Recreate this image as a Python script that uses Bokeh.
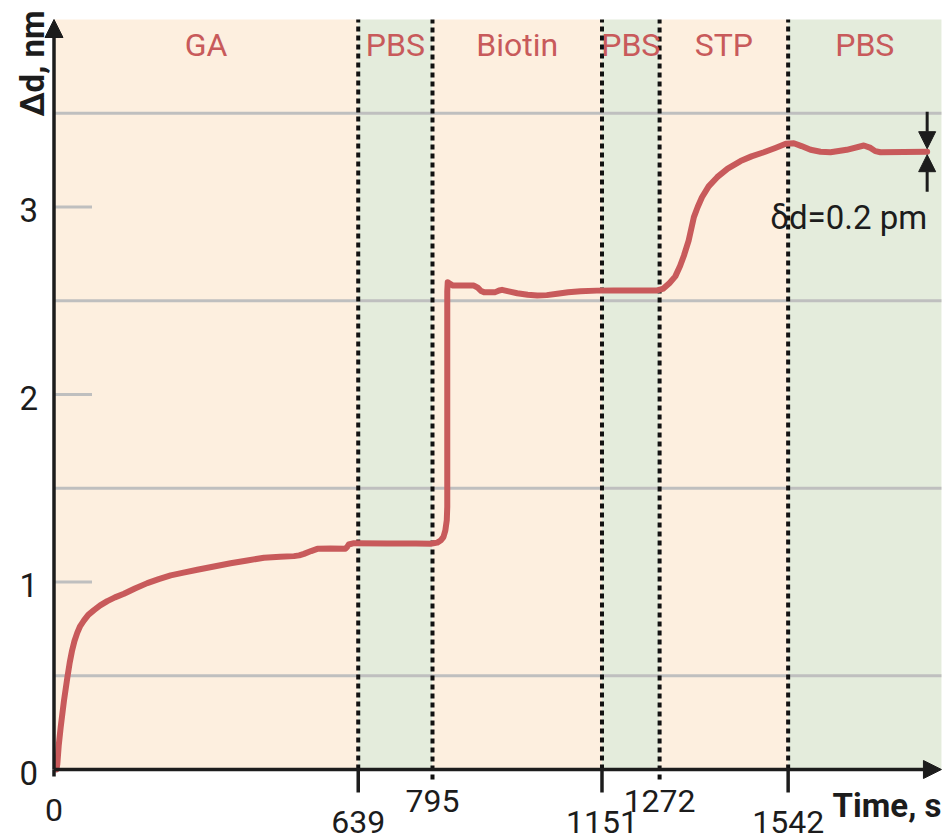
from bokeh.plotting import figure
from bokeh.models import Range1d, Arrow, NormalHead
from bokeh.core.properties import value
from bokeh.embed import file_html
from bokeh.resources import INLINE
import math

# ---------------- data ----------------
phase_names = ["GA", "PBS", "Biotin", "PBS", "STP", "PBS"]
phase_starts = [0, 639, 795, 1151, 1272, 1542]
phase_ends = [639, 795, 1151, 1272, 1542, 1864]
phase_is_buffer = [False, True, False, True, False, True]

boundaries = [639, 795, 1151, 1272, 1542]
boundary_low_label = [True, False, True, False, True]

x_ticks = [0, 639, 795, 1151, 1272, 1542]
x_tick_labels = ["0", "639", "795", "1151", "1272", "1542"]
y_ticks = [0, 1, 2, 3]
y_tick_labels = ["0", "1", "2", "3"]
y_grid = [0.5, 1.5, 2.5, 3.5]

time_s = [5, 7, 10, 14, 21, 28, 33, 38, 43, 49, 55, 63, 72, 84, 97, 112, 128, 147, 170,
          196, 220, 245, 272, 301, 336, 371, 406, 441, 475, 504, 515, 525, 540, 553,
          581, 612, 616, 619, 630, 700, 760, 791, 805, 812, 818, 822, 825, 826, 826,
          827, 832, 838, 882, 890, 897, 903, 927, 935, 941, 955, 973, 995, 1015, 1035,
          1057, 1080, 1106, 1140, 1176, 1267, 1280, 1293, 1305, 1315, 1323, 1333, 1344,
          1352, 1361, 1375, 1393, 1415, 1442, 1465, 1491, 1515, 1537, 1554, 1570, 1589,
          1610, 1631, 1665, 1701, 1715, 1725, 1736, 1834]
delta_d_nm = [0.0, 0.03, 0.13, 0.225, 0.368, 0.49, 0.57, 0.635, 0.685, 0.73, 0.765,
              0.795, 0.825, 0.85, 0.875, 0.898, 0.918, 0.937, 0.965, 0.994, 1.015, 1.035,
              1.05, 1.065, 1.083, 1.10, 1.115, 1.129, 1.135, 1.138, 1.142, 1.15, 1.165,
              1.177, 1.179, 1.177, 1.188, 1.20, 1.207, 1.205, 1.205, 1.204, 1.21, 1.221,
              1.24, 1.275, 1.33, 1.40, 2.55, 2.599, 2.59, 2.581, 2.581, 2.57, 2.552,
              2.546, 2.546, 2.555, 2.558, 2.55, 2.54, 2.532, 2.528, 2.53, 2.537, 2.545,
              2.551, 2.554, 2.555, 2.555, 2.565, 2.595, 2.63, 2.685, 2.74, 2.821, 2.946,
              3.0, 3.052, 3.11, 3.159, 3.205, 3.245, 3.27, 3.292, 3.315, 3.337, 3.34,
              3.325, 3.305, 3.295, 3.292, 3.305, 3.328, 3.315, 3.298, 3.292, 3.295]

annotation_text = "δd=0.2 pm"
x_title = "Time, s"
y_title = "Δd, nm"

T_MAX = 1864
Y_MAX = 4.0

# ---------------- geometry ----------------
W, H = 946, 839
ORIGIN_PX = (53.5, 769.0)
KX = 0.4761   # px per second
KY = 187.5    # px per nm

x0 = -ORIGIN_PX[0] / KX
x1 = (W - ORIGIN_PX[0]) / KX
y0 = -(H - ORIGIN_PX[1]) / KY
y1 = ORIGIN_PX[1] / KY

RED = "#c85a5b"
PEACH = "#fdefdf"
GREEN = "#e4ecdc"
GRID = "#bfbfbf"
DARK = "#1c1c1c"
FONT = value("Roboto")

p = figure(width=W, height=H, output_backend="svg", toolbar_location=None,
           x_range=Range1d(x0, x1), y_range=Range1d(y0, y1),
           x_axis_location=None, y_axis_location=None, min_border=0)
p.outline_line_color = None
p.grid.visible = False
p.background_fill_color = "white"
p.border_fill_color = "white"

# phase backgrounds
p.quad(left=phase_starts, right=phase_ends, bottom=[0] * len(phase_starts),
       top=[Y_MAX] * len(phase_starts),
       fill_color=[GREEN if b else PEACH for b in phase_is_buffer], line_color=None)

# horizontal grid lines
p.segment(x0=[0] * len(y_grid), x1=[T_MAX] * len(y_grid), y0=y_grid, y1=y_grid,
          line_color=GRID, line_width=3)
# short gray y ticks
yt = [v for v in y_ticks if v > 0]
p.segment(x0=[0] * len(yt), x1=[38 / KX] * len(yt), y0=yt, y1=yt,
          line_color=GRID, line_width=3)

# dashed phase boundaries
dash_bottom = [0 if low else -10 / KY for low in boundary_low_label]
p.segment(x0=boundaries, x1=boundaries, y0=dash_bottom, y1=[Y_MAX] * len(boundaries),
          line_color="#111111", line_width=4, line_dash="5 4")
# solid ticks under axis for low labels
lows = [b for b, low in zip(boundaries, boundary_low_label) if low]
p.segment(x0=lows, x1=lows, y0=[-23 / KY] * len(lows), y1=[0] * len(lows),
          line_color=DARK, line_width=3.5)

# curve
p.line(time_s, delta_d_nm, line_color=RED, line_width=6, line_join="round", line_cap="round")

# axes with arrows
p.segment(x0=[0], x1=[0], y0=[-7 / KY], y1=[0], line_color=DARK, line_width=3.5)
p.add_layout(Arrow(end=NormalHead(size=18, fill_color=DARK, line_color=DARK, line_width=1),
                   x_start=0, y_start=0, x_end=0, y_end=Y_MAX,
                   line_color=DARK, line_width=3.5))
p.add_layout(Arrow(end=NormalHead(size=18, fill_color=DARK, line_color=DARK, line_width=1),
                   x_start=0, y_start=0, x_end=T_MAX, y_end=0,
                   line_color=DARK, line_width=3.5))

# delta-d annotation arrows
t_end = time_s[-1]
d_end = delta_d_nm[-1]
p.add_layout(Arrow(end=NormalHead(size=17, fill_color=DARK, line_color=DARK, line_width=1),
                   x_start=t_end, y_start=d_end + 40 / KY, x_end=t_end, y_end=d_end + 3 / KY,
                   line_color=DARK, line_width=3))
p.add_layout(Arrow(end=NormalHead(size=17, fill_color=DARK, line_color=DARK, line_width=1),
                   x_start=t_end, y_start=d_end - 40 / KY, x_end=t_end, y_end=d_end - 3 / KY,
                   line_color=DARK, line_width=3))
p.text(x=[t_end], y=[d_end - 66 / KY], text=[annotation_text], text_font=FONT,
       text_font_size="33px", text_color=DARK, text_align="right",
       text_baseline="alphabetic")

# phase labels
mids = [(a + b) / 2 for a, b in zip(phase_starts, phase_ends)]
p.text(x=mids, y=[Y_MAX - 25 / KY] * len(mids), text=phase_names, text_font=FONT,
       text_font_size="32px", text_color=RED, text_align="center", text_baseline="middle")

# y tick labels
p.text(x=[-16 / KX] * len(y_ticks), y=[v - 3 / KY for v in y_ticks], text=y_tick_labels,
       text_font=FONT, text_font_size="33px", text_color=DARK,
       text_align="right", text_baseline="middle")

# x tick labels (staggered)
lab_y = []
for t in x_ticks:
    if t == 0:
        lab_y.append(-40 / KY)
    elif t in lows:
        lab_y.append(-52 / KY)
    else:
        lab_y.append(-31 / KY)
p.text(x=x_ticks, y=lab_y, text=x_tick_labels, text_font=FONT, text_font_size="32px",
       text_color=DARK, text_align="center", text_baseline="middle")

# axis titles
p.text(x=[T_MAX], y=[-36 / KY], text=[x_title], text_font=FONT, text_font_size="33px",
       text_font_style="bold", text_color=DARK, text_align="right", text_baseline="middle")
p.text(x=[-22 / KX], y=[Y_MAX - 44 / KY], text=[y_title], text_font=FONT,
       text_font_size="33px", text_font_style="bold", text_color=DARK,
       text_align="center", text_baseline="middle", angle=math.pi / 2)

open("out.html", "w").write(file_html(p, INLINE))
